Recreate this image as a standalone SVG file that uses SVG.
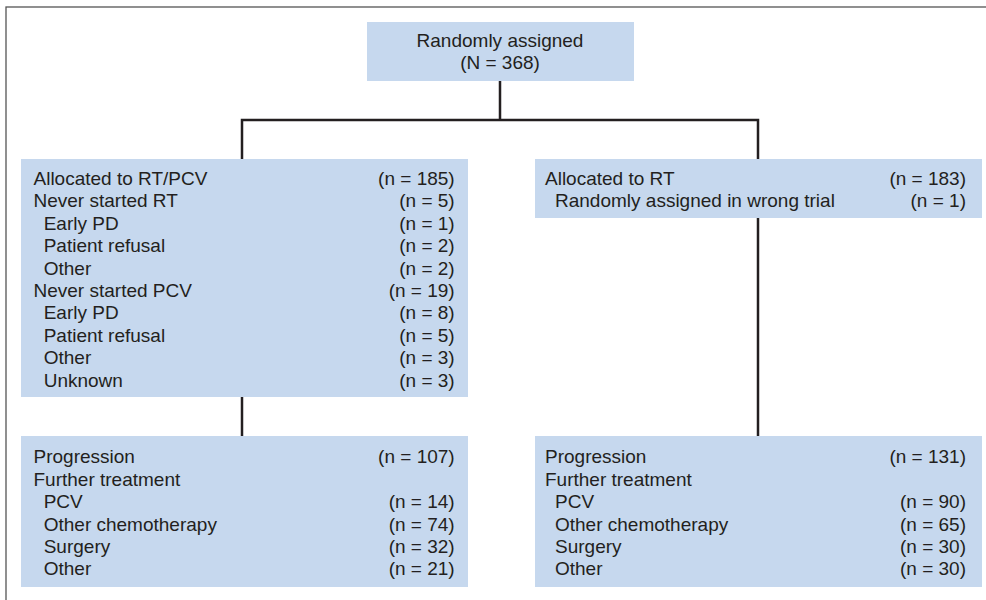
<svg xmlns="http://www.w3.org/2000/svg" width="986" height="600" viewBox="0 0 986 600">
<style>
.box{fill:#c6d8ee}
text{font-family:"Liberation Sans",Arial,sans-serif;font-size:19px;fill:#231f20}
.r{text-anchor:end}
.c{text-anchor:middle}
.conn{fill:none;stroke:#231f20;stroke-width:2.5}
</style>
<rect x="6" y="7" width="1000" height="1000" fill="none" stroke="#555" stroke-width="1.3"/>
<g id="connectors">
<path class="conn" d="M500 81 V120 M242 159 V120 H758 V159"/>
<path class="conn" d="M242 397 V436"/>
<path class="conn" d="M758 218 V436"/>
</g>
<g id="randomized">
<rect class="box" x="367" y="22" width="267" height="59"/>
<text class="c" x="500" y="47">Randomly assigned</text>
<text class="c" x="500" y="69.3">(N = 368)</text>
</g>
<g id="rtpcv">
<rect class="box" x="21" y="159" width="447" height="238"/>
<text x="33.5" y="185">Allocated to RT/PCV</text><text class="r" x="454.7" y="185">(n = 185)</text>
<text x="33.5" y="207.4">Never started RT</text><text class="r" x="454.7" y="207.4">(n = 5)</text>
<text x="43.7" y="229.8">Early PD</text><text class="r" x="454.7" y="229.8">(n = 1)</text>
<text x="43.7" y="252.2">Patient refusal</text><text class="r" x="454.7" y="252.2">(n = 2)</text>
<text x="43.7" y="274.6">Other</text><text class="r" x="454.7" y="274.6">(n = 2)</text>
<text x="33.5" y="297">Never started PCV</text><text class="r" x="454.7" y="297">(n = 19)</text>
<text x="43.7" y="319.4">Early PD</text><text class="r" x="454.7" y="319.4">(n = 8)</text>
<text x="43.7" y="341.8">Patient refusal</text><text class="r" x="454.7" y="341.8">(n = 5)</text>
<text x="43.7" y="364.2">Other</text><text class="r" x="454.7" y="364.2">(n = 3)</text>
<text x="43.7" y="386.6">Unknown</text><text class="r" x="454.7" y="386.6">(n = 3)</text>
</g>
<g id="rt">
<rect class="box" x="535" y="159" width="447" height="59"/>
<text x="545" y="185">Allocated to RT</text><text class="r" x="966" y="185">(n = 183)</text>
<text x="555" y="207.4">Randomly assigned in wrong trial</text><text class="r" x="966" y="207.4">(n = 1)</text>
</g>
<g id="prog-rtpcv">
<rect class="box" x="21" y="436" width="447" height="151"/>
<text x="33.5" y="463.3">Progression</text><text class="r" x="454.7" y="463.3">(n = 107)</text>
<text x="33.5" y="485.7">Further treatment</text>
<text x="43.7" y="508.1">PCV</text><text class="r" x="454.7" y="508.1">(n = 14)</text>
<text x="43.7" y="530.5">Other chemotherapy</text><text class="r" x="454.7" y="530.5">(n = 74)</text>
<text x="43.7" y="552.9">Surgery</text><text class="r" x="454.7" y="552.9">(n = 32)</text>
<text x="43.7" y="575.3">Other</text><text class="r" x="454.7" y="575.3">(n = 21)</text>
</g>
<g id="prog-rt">
<rect class="box" x="535" y="436" width="447" height="151"/>
<text x="545" y="463.3">Progression</text><text class="r" x="966" y="463.3">(n = 131)</text>
<text x="545" y="485.7">Further treatment</text>
<text x="555" y="508.1">PCV</text><text class="r" x="966" y="508.1">(n = 90)</text>
<text x="555" y="530.5">Other chemotherapy</text><text class="r" x="966" y="530.5">(n = 65)</text>
<text x="555" y="552.9">Surgery</text><text class="r" x="966" y="552.9">(n = 30)</text>
<text x="555" y="575.3">Other</text><text class="r" x="966" y="575.3">(n = 30)</text>
</g>
</svg>
